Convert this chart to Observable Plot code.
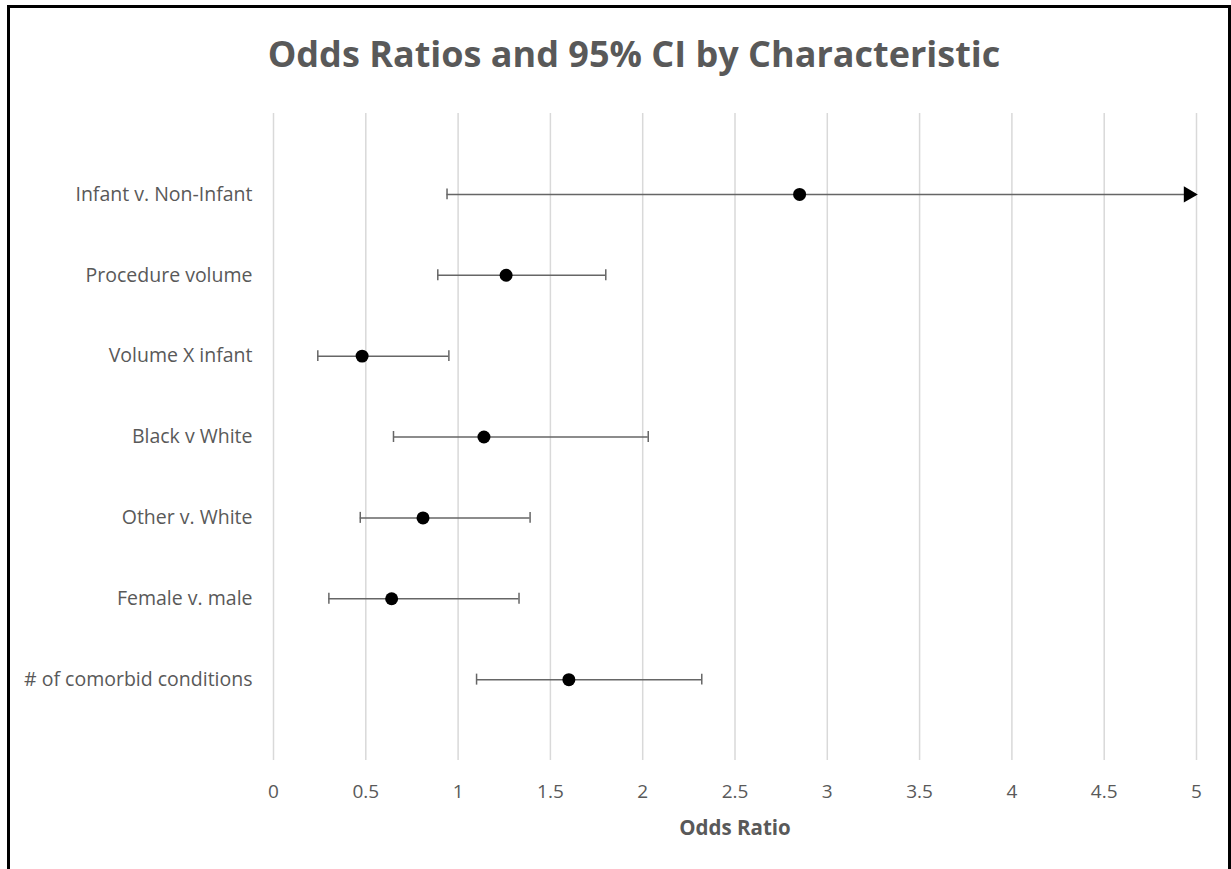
<!DOCTYPE html>
<html><head><meta charset="utf-8">
<script src="https://cdn.jsdelivr.net/npm/d3@7"></script>
<script src="https://cdn.jsdelivr.net/npm/@observablehq/plot@0.6"></script>
<style>
body{margin:0;background:#fff;}
#wrap{position:relative;width:1231px;height:869px;overflow:hidden;font-family:"Open Sans",sans-serif;}
#frame{position:absolute;left:7px;top:5px;width:1224px;height:900px;border:3px solid #000;box-sizing:border-box;}
#title{position:absolute;top:36px;left:0;width:1268px;text-align:center;font-size:36px;font-weight:700;color:#595959;line-height:1;}
#chart{position:absolute;top:100px;left:0;width:1231px;}
#chart svg [aria-label="x-axis label"] text{font-weight:700;}
</style></head><body>
<div id="wrap"><div id="frame"></div><div id="title">Odds Ratios and 95% CI by Characteristic</div><div id="chart"></div></div>
<script>
const characteristics = ["Infant v. Non-Infant","Procedure volume","Volume X infant","Black v White","Other v. White","Female v. male","# of comorbid conditions"];
const oddsRatio = [2.85, 1.26, 0.48, 1.14, 0.81, 0.64, 1.60];
const ciLower   = [0.94, 0.89, 0.24, 0.65, 0.47, 0.30, 1.10];
const ciUpper   = [5.00, 1.80, 0.95, 2.03, 1.39, 1.33, 2.32]; // Infant upper bound exceeds axis (arrow)
const truncated = [true, false, false, false, false, false, false];
const xTicks = [0, 0.5, 1, 1.5, 2, 2.5, 3, 3.5, 4, 4.5, 5];

const rows = characteristics.map((c, i) => ({c, or: oddsRatio[i], lo: ciLower[i], hi: ciUpper[i], trunc: truncated[i]}));
const gray = "#595959";
const barColor = "#666666";

const chart = Plot.plot({
  width: 1231,
  height: 769,
  marginTop: 13,
  marginBottom: 109,
  marginLeft: 273,
  marginRight: 35,
  style: {background: "transparent", fontFamily: "'Open Sans', sans-serif", color: gray},
  x: {domain: [0, 5]},
  y: {type: "band", domain: characteristics, paddingInner: 0.864, paddingOuter: 0.932, round: false},
  marks: [
    Plot.gridX(xTicks, {stroke: "#d9d9d9", strokeOpacity: 1, strokeWidth: 1.5}),
    Plot.axisX({ticks: xTicks, tickSize: 0, tickPadding: 24, fontSize: 19, tickFormat: d => String(d), label: "Odds Ratio", labelAnchor: "center", labelArrow: "none", labelOffset: 74, fontWeight: 400}),
    Plot.axisY({tickSize: 0, tickPadding: 21, fontSize: 19.5, label: null}),
    Plot.ruleY(rows, {y: "c", x1: "lo", x2: "hi", stroke: barColor, strokeWidth: 1.5}),
    Plot.tickX(rows, {x: "lo", y: "c", stroke: barColor, strokeWidth: 1.5}),
    Plot.tickX(rows.filter(d => !d.trunc), {x: "hi", y: "c", stroke: barColor, strokeWidth: 1.5}),
    Plot.dot(rows.filter(d => d.trunc), {x: "hi", y: "c", symbol: "triangle", rotate: 90, r: 6, fill: "#000", stroke: "none", dx: -8}),
    Plot.dot(rows, {x: "or", y: "c", r: 6.5, fill: "#000", stroke: "none"})
  ]
});
document.getElementById("chart").appendChild(chart);
const lbl = chart.querySelector('[aria-label="x-axis label"] text');
if (lbl) { lbl.setAttribute("font-size", "20.5"); lbl.style.fontSize = "20.5px"; }
</script>
</body></html>
